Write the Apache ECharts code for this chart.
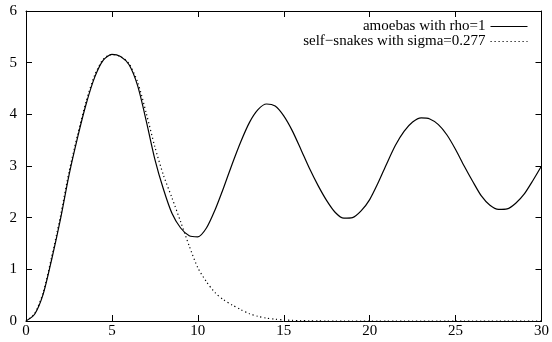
<!DOCTYPE html>
<html>
<head>
<meta charset="utf-8">
<script src="https://cdn.jsdelivr.net/npm/echarts@6/dist/echarts.min.js"></script>
<style>
  html, body { margin: 0; padding: 0; background: #fff; }
  #main { width: 552px; height: 342px; }
</style>
</head>
<body>
<div id="main"></div>
<script>
// sample positions, every 0.5 from 0 to 30
const xs = [0, 0.5, 1, 1.5, 2, 2.5, 3, 3.5, 4, 4.5, 5, 5.5, 6, 6.5, 7, 7.5, 8, 8.5, 9, 9.5,
  10, 10.5, 11, 11.5, 12, 12.5, 13, 13.5, 14, 14.5, 15, 15.5, 16, 16.5, 17, 17.5, 18, 18.5, 19, 19.5,
  20, 20.5, 21, 21.5, 22, 22.5, 23, 23.5, 24, 24.5, 25, 25.5, 26, 26.5, 27, 27.5, 28, 28.5, 29, 29.5, 30];

const amoebas = [0, 0.13, 0.52, 1.2, 1.96, 2.82, 3.55, 4.2, 4.72, 5.05, 5.16, 5.12, 4.96, 4.55, 3.87, 3.13, 2.55, 2.08, 1.8, 1.65,
  1.63, 1.8, 2.15, 2.58, 3.04, 3.47, 3.84, 4.09, 4.2, 4.16, 3.97, 3.68, 3.32, 2.95, 2.62, 2.33, 2.1, 1.99, 2.0, 2.13,
  2.35, 2.68, 3.05, 3.4, 3.67, 3.85, 3.93, 3.91, 3.8, 3.6, 3.32, 3.0, 2.7, 2.42, 2.24, 2.16, 2.17, 2.28, 2.46, 2.72, 3.0];

const selfSnakes = [0, 0.14, 0.55, 1.25, 2.02, 2.88, 3.6, 4.25, 4.76, 5.07, 5.16, 5.12, 4.98, 4.62, 4.02, 3.37, 2.82, 2.38, 1.92, 1.45,
  1.03, 0.76, 0.55, 0.41, 0.31, 0.22, 0.14, 0.09, 0.055, 0.035, 0.02, 0.012, 0.007, 0.004, 0.002, 0, 0, 0, 0, 0,
  0, 0, 0, 0, 0, 0, 0, 0, 0, 0, 0, 0, 0, 0, 0, 0, 0, 0, 0, 0, 0];

const seriesNames = ['amoebas with rho=1', 'self\u2212snakes with sigma=0.277'];

const font = 'Liberation Serif';

const chart = echarts.init(document.getElementById('main'));

const mirrorAxis = {
    axisLine: {show: true, onZero: false, lineStyle: {color: '#000', width: 1}},
    axisTick: {show: true, inside: true, length: 6, lineStyle: {color: '#000'}},
    axisLabel: {show: false},
    splitLine: {show: false}
};

chart.setOption({
    animation: false,
    backgroundColor: '#fff',
    grid: {left: 26, right: 10, top: 11, bottom: 21},
    legend: {
        orient: 'vertical',
        right: 24,
        top: 19,
        padding: 0,
        align: 'right',
        itemWidth: 37,
        itemHeight: 10,
        itemGap: 0,
        itemStyle: {opacity: 0},
        lineStyle: {width: 1},
        textStyle: {fontFamily: font, fontSize: 15, color: '#000', lineHeight: 10},
        data: seriesNames
    },
    xAxis: [{
        type: 'value', min: 0, max: 30, interval: 5,
        axisLine: {show: true, onZero: false, lineStyle: {color: '#000', width: 1}},
        axisTick: {show: true, inside: true, length: 6, lineStyle: {color: '#000'}},
        axisLabel: {color: '#000', fontFamily: font, fontSize: 15, margin: 3},
        splitLine: {show: false}
    }, Object.assign({type: 'value', position: 'top', min: 0, max: 30, interval: 5}, mirrorAxis)],
    yAxis: [{
        type: 'value', min: 0, max: 6, interval: 1,
        axisLine: {show: true, onZero: false, lineStyle: {color: '#000', width: 1}},
        axisTick: {show: true, inside: true, length: 6, lineStyle: {color: '#000'}},
        axisLabel: {color: '#000', fontFamily: font, fontSize: 15, margin: 9},
        splitLine: {show: false}
    }, Object.assign({type: 'value', position: 'right', min: 0, max: 6, interval: 1}, mirrorAxis)],
    series: [
        {
            name: seriesNames[0],
            type: 'line',
            symbol: 'none',
            smooth: 0.25,
            lineStyle: {color: '#000', width: 1.2},
            itemStyle: {color: '#000'},
            data: xs.map((x, i) => [x, amoebas[i]])
        },
        {
            name: seriesNames[1],
            type: 'line',
            symbol: 'none',
            smooth: 0.25,
            lineStyle: {color: '#000', width: 1.2, type: [1.2, 2.8]},
            itemStyle: {color: '#000'},
            data: xs.map((x, i) => [x, selfSnakes[i]])
        }
    ]
});
</script>
</body>
</html>
